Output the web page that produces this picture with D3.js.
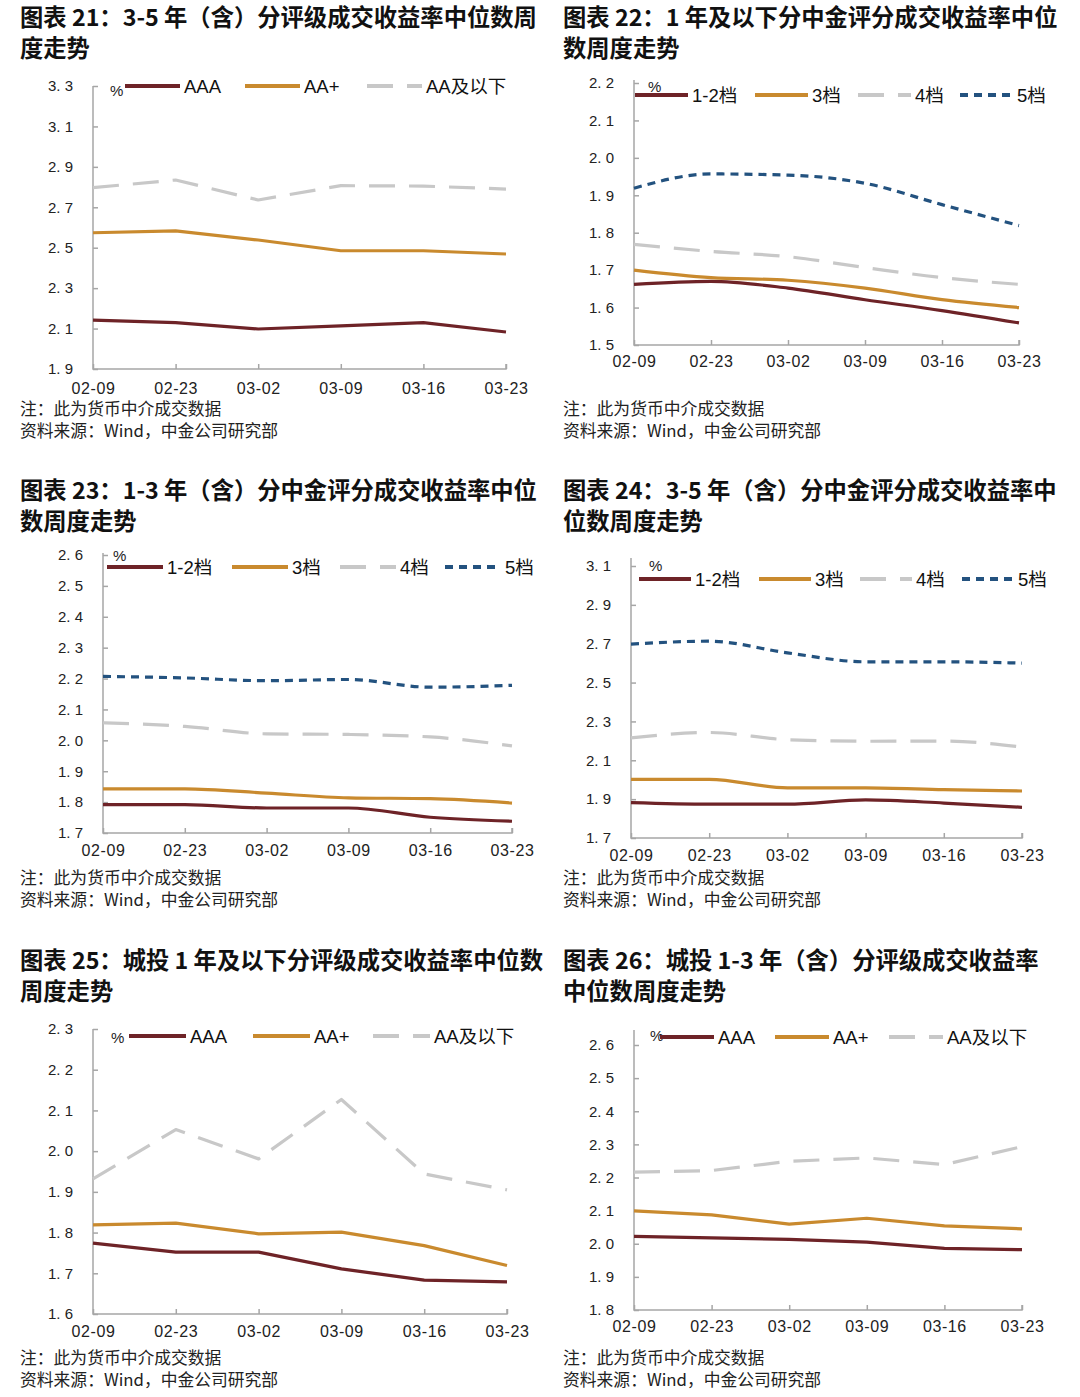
<!DOCTYPE html>
<html>
<head>
<meta charset="utf-8">
<script src="https://cdn.jsdelivr.net/npm/d3@7"></script>
<style>
  body { margin: 0; background: #fff; }
  svg { display: block; font-family: "Noto Sans CJK SC", "Liberation Sans", sans-serif; }
  .tick text { fill: #222; }
</style>
</head>
<body>
<div id="chart"></div>
<script>
// categories shared by all six charts
const dates = ["02-09", "02-23", "03-02", "03-09", "03-16", "03-23"];
const ratingNames = ["AAA", "AA+", "AA及以下"];
const tierNames = ["1-2档", "3档", "4档", "5档"];

// 图表21 3-5年 分评级
const c21AAA = [2.142, 2.129, 2.098, 2.113, 2.129, 2.083];
const c21AAplus = [2.574, 2.583, 2.538, 2.485, 2.485, 2.469];
const c21AA = [2.797, 2.835, 2.736, 2.807, 2.805, 2.790];
const c21Ticks = [1.9, 2.1, 2.3, 2.5, 2.7, 2.9, 3.1, 3.3];

// 图表22 1年及以下 分中金评分
const c22T12 = [1.662, 1.670, 1.652, 1.621, 1.592, 1.559];
const c22T3 = [1.700, 1.680, 1.673, 1.652, 1.621, 1.600];
const c22T4 = [1.769, 1.750, 1.736, 1.707, 1.680, 1.662];
const c22T5 = [1.919, 1.957, 1.954, 1.932, 1.875, 1.819];
const c22Ticks = [1.5, 1.6, 1.7, 1.8, 1.9, 2.0, 2.1, 2.2];

// 图表23 1-3年 分中金评分
const c23T12 = [1.792, 1.792, 1.781, 1.781, 1.751, 1.738];
const c23T3 = [1.843, 1.843, 1.829, 1.814, 1.811, 1.797];
const c23T4 = [2.057, 2.045, 2.021, 2.019, 2.011, 1.982];
const c23T5 = [2.207, 2.202, 2.193, 2.197, 2.172, 2.178];
const c23Ticks = [1.7, 1.8, 1.9, 2.0, 2.1, 2.2, 2.3, 2.4, 2.5, 2.6];

// 图表24 3-5年 分中金评分
const c24T12 = [1.882, 1.874, 1.874, 1.896, 1.880, 1.858];
const c24T3 = [2.002, 2.002, 1.958, 1.958, 1.949, 1.942];
const c24T4 = [2.215, 2.243, 2.206, 2.198, 2.199, 2.168];
const c24T5 = [2.698, 2.713, 2.653, 2.607, 2.607, 2.600];
const c24Ticks = [1.7, 1.9, 2.1, 2.3, 2.5, 2.7, 2.9, 3.1];

// 图表25 城投1年及以下 分评级
const c25AAA = [1.774, 1.752, 1.752, 1.711, 1.683, 1.679];
const c25AAplus = [1.819, 1.823, 1.797, 1.801, 1.768, 1.719];
const c25AA = [1.932, 2.053, 1.981, 2.127, 1.944, 1.905];
const c25Ticks = [1.6, 1.7, 1.8, 1.9, 2.0, 2.1, 2.2, 2.3];

// 图表26 城投1-3年 分评级
const c26AAA = [2.022, 2.018, 2.013, 2.005, 1.986, 1.982];
const c26AAplus = [2.099, 2.087, 2.059, 2.077, 2.054, 2.045];
const c26AA = [2.216, 2.221, 2.249, 2.259, 2.239, 2.293];
const c26Ticks = [1.8, 1.9, 2.0, 2.1, 2.2, 2.3, 2.4, 2.5, 2.6];

const note = "注：此为货币中介成交数据";
const source = "资料来源：Wind，中金公司研究部";

/*
  STYLES FOR THE SERIES
*/
const styles = [
  {color: "#6E2327", dash: null},
  {color: "#C98A2E", dash: null},
  {color: "#C8C8C8", dash: "26,14"},
  {color: "#23527F", dash: "8,6"}
];

const width = 1080, height = 1397;
const svg = d3.select("#chart").append("svg")
  .attr("width", width)
  .attr("height", height);

svg.append("rect").attr("width", width).attr("height", height).attr("fill", "#fff");

function drawChart(cfg) {
  const g = svg.append("g");

  // title, two lines
  cfg.title.forEach(function(t, i) {
    g.append("text")
      .attr("x", cfg.tx)
      .attr("y", cfg.ty + i * 31)
      .attr("font-size", 23.3)
      .attr("font-weight", "bold")
      .attr("fill", "#111")
      .text(t);
  });

  const xScale = d3.scalePoint().domain(dates).range([cfg.x0, cfg.x1]);
  const yScale = d3.scaleLinear()
    .domain([cfg.ticks[0], cfg.ticks[cfg.ticks.length - 1]])
    .range([cfg.yBot, cfg.yTop]);

  // axes
  const yAxis = g.append("g")
    .attr("transform", `translate(${cfg.x0},0)`)
    .call(d3.axisLeft(yScale).tickValues(cfg.ticks).tickSize(-5).tickPadding(20)
      .tickFormat(d => d.toFixed(1).replace(".", ". ")));
  yAxis.select(".domain").remove();
  yAxis.selectAll("line").attr("stroke", "#A6A6A6").attr("stroke-width", 1.5);
  yAxis.selectAll("text").attr("font-size", 15).attr("font-family", "Liberation Sans, sans-serif");

  const xAxis = g.append("g")
    .attr("transform", `translate(0,${cfg.yBot})`)
    .call(d3.axisBottom(xScale).tickSize(-5).tickPadding(cfg.xPad));
  xAxis.select(".domain").remove();
  xAxis.selectAll("line").attr("stroke", "#A6A6A6").attr("stroke-width", 1.5);
  xAxis.selectAll("text").attr("font-size", 16).attr("letter-spacing", 0.6)
    .attr("font-family", "Liberation Sans, sans-serif");

  g.append("path")
    .attr("d", `M${cfg.x0},${cfg.axisTop}V${cfg.yBot}H${cfg.x1}V${cfg.yBot - 5}`)
    .attr("fill", "none")
    .attr("stroke", "#A6A6A6")
    .attr("stroke-width", 1.5);

  // lines
  cfg.series.forEach(function(vals, i) {
    const st = styles[cfg.styleIdx[i]];
    const line = d3.line()
      .x((d, j) => xScale(dates[j]))
      .y(d => yScale(d))
      .curve(cfg.smooth ? d3.curveMonotoneX : d3.curveLinear);
    g.append("path")
      .datum(vals)
      .attr("d", line)
      .attr("fill", "none")
      .attr("stroke", st.color)
      .attr("stroke-width", 3.2)
      .attr("stroke-dasharray", st.dash)
      .attr("stroke-linejoin", "round");
  });

  // legend
  g.append("text")
    .attr("x", cfg.pctX).attr("y", cfg.pctY)
    .attr("font-size", 15)
    .attr("font-family", "Liberation Sans, sans-serif")
    .attr("fill", "#222")
    .text("%");
  cfg.names.forEach(function(n, i) {
    const st = styles[cfg.styleIdx[i]];
    const lx = cfg.legX[i];
    g.append("line")
      .attr("x1", lx).attr("x2", lx + cfg.legLen)
      .attr("y1", cfg.legY).attr("y2", cfg.legY)
      .attr("stroke", st.color)
      .attr("stroke-width", 3.8)
      .attr("stroke-dasharray", st.dash);
    g.append("text")
      .attr("x", lx + cfg.legLen + 4)
      .attr("y", cfg.legY + 7)
      .attr("font-size", 18.5)
      .attr("font-family", "Liberation Sans, Noto Sans CJK SC, sans-serif")
      .attr("fill", "#111")
      .text(n);
  });

  // footnotes
  [note, source].forEach(function(t, i) {
    g.append("text")
      .attr("x", cfg.tx)
      .attr("y", cfg.fy + i * 22)
      .attr("font-size", 16.8)
      .attr("fill", "#222")
      .text(t);
  });
}

drawChart({
  title: ["图表 21：3-5 年（含）分评级成交收益率中位数周", "度走势"],
  tx: 20, ty: 26, fy: 415,
  x0: 93, x1: 506, yTop: 86, yBot: 369, axisTop: 86, xPad: 14,
  ticks: c21Ticks,
  series: [c21AAA, c21AAplus, c21AA], names: ratingNames, styleIdx: [0, 1, 2],
  legY: 86, legX: [125, 245, 367], legLen: 55, pctX: 110, pctY: 96,
  smooth: false
});

drawChart({
  title: ["图表 22：1 年及以下分中金评分成交收益率中位", "数周度走势"],
  tx: 563, ty: 26, fy: 415,
  x0: 634, x1: 1019, yTop: 83, yBot: 345, axisTop: 80, xPad: 11,
  ticks: c22Ticks,
  series: [c22T12, c22T3, c22T4, c22T5], names: tierNames, styleIdx: [0, 1, 2, 3],
  legY: 95, legX: [635, 755, 858, 960], legLen: 53, pctX: 648, pctY: 92,
  smooth: true
});

drawChart({
  title: ["图表 23：1-3 年（含）分中金评分成交收益率中位", "数周度走势"],
  tx: 20, ty: 499, fy: 884,
  x0: 103, x1: 512, yTop: 555, yBot: 833, axisTop: 553, xPad: 12,
  ticks: c23Ticks,
  series: [c23T12, c23T3, c23T4, c23T5], names: tierNames, styleIdx: [0, 1, 2, 3],
  legY: 567, legX: [107, 232, 340, 445], legLen: 56, pctX: 113, pctY: 561,
  smooth: true
});

drawChart({
  title: ["图表 24：3-5 年（含）分中金评分成交收益率中", "位数周度走势"],
  tx: 563, ty: 499, fy: 884,
  x0: 631, x1: 1022, yTop: 566, yBot: 838, axisTop: 558, xPad: 12,
  ticks: c24Ticks,
  series: [c24T12, c24T3, c24T4, c24T5], names: tierNames, styleIdx: [0, 1, 2, 3],
  legY: 579, legX: [639, 759, 860, 962], legLen: 52, pctX: 649, pctY: 571,
  smooth: true
});

drawChart({
  title: ["图表 25：城投 1 年及以下分评级成交收益率中位数", "周度走势"],
  tx: 20, ty: 969, fy: 1364,
  x0: 93, x1: 507, yTop: 1029, yBot: 1314, axisTop: 1029, xPad: 12,
  ticks: c25Ticks,
  series: [c25AAA, c25AAplus, c25AA], names: ratingNames, styleIdx: [0, 1, 2],
  legY: 1036, legX: [129, 253, 373], legLen: 57, pctX: 111, pctY: 1043,
  smooth: false
});

drawChart({
  title: ["图表 26：城投 1-3 年（含）分评级成交收益率", "中位数周度走势"],
  tx: 563, ty: 969, fy: 1364,
  x0: 634, x1: 1022, yTop: 1045, yBot: 1310, axisTop: 1030, xPad: 11,
  ticks: c26Ticks,
  series: [c26AAA, c26AAplus, c26AA], names: ratingNames, styleIdx: [0, 1, 2],
  legY: 1037, legX: [660, 775, 889], legLen: 54, pctX: 650, pctY: 1041,
  smooth: false
});
</script>
</body>
</html>
